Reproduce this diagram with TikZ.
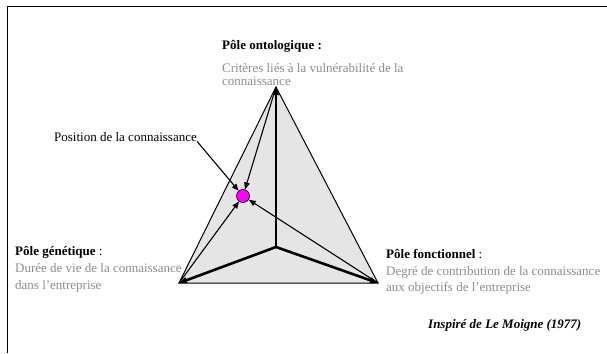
\documentclass[tikz,border=0pt]{standalone}
\usepackage{fontspec}
\setmainfont{Liberation Serif}
\usetikzlibrary{arrows.meta}

\definecolor{poletext}{gray}{0.55}
\definecolor{polefill}{gray}{0.9}
\definecolor{knowdot}{RGB}{255,0,255}

\tikzstyle{edges}=[line width=1pt, line join=miter]
\tikzstyle{axis}=[-{Triangle[length=8pt,width=6pt]}]
\tikzstyle{arrow}=[line width=1.1pt, -{Triangle[length=7pt,width=5.5pt]}]
\tikzstyle{heading}=[anchor=base west, inner sep=0pt, font=\fontsize{13}{15}\selectfont]
\tikzstyle{descr}=[anchor=base west, inner sep=0pt, align=left, text=poletext]

\begin{document}
\begin{tikzpicture}[x=1pt, y={(0pt,-1pt)}]
	\useasboundingbox (0,0) rectangle (607,353);

	% Frame
	\draw[line width=0.8pt] (7,353) -- (7,6) -- (607,6);

	% Poles, centre
	\coordinate (onto) at (276,87);
	\coordinate (gene) at (179,283);
	\coordinate (fonc) at (378,283);
	\coordinate (centre) at (276,247);

	% Triangle
	\draw[edges, fill=polefill] (onto) -- (gene) -- (fonc) -- cycle;
	\draw[axis, line width=1.6pt] (centre) -- (onto);
	\foreach \p in {gene,fonc} {
		\draw[axis, line width=2.6pt] (centre) -- (\p);
	}

	% Position of the knowledge
	\node[circle, draw, fill=knowdot, minimum size=13pt, inner sep=0pt, line width=0.6pt] (pos) at (243,196) {};
	\foreach \p in {onto,gene,fonc} {
		\draw[arrow] (\p) -- (pos);
	}
	\node[heading] (poslabel) at (54,141) {Position de la connaissance};
	\draw[arrow] (poslabel.south east) -- (pos);

	% Labels (descr nodes sit on their last line)
	\node[heading] (ontohead) at (222,50) {\bfseries Pôle ontologique :};
	\node[descr, font=\fontsize{13}{13}\selectfont] (ontotext) at (222,85)
		{Critères liés à la vulnérabilité de la\\connaissance};
	\node[heading] (genehead) at (15,255) {{\bfseries Pôle génétique} :};
	\node[descr, font=\fontsize{13}{17}\selectfont] (genetext) at (15,289)
		{Durée de vie de la connaissance\\dans l’entreprise};
	\node[heading] (fonchead) at (386,258) {{\bfseries Pôle fonctionnel} :};
	\node[descr, font=\fontsize{13}{16}\selectfont] (fonctext) at (386,291)
		{Degré de contribution de la connaissance\\aux objectifs de l’entreprise};

	% Source
	\node[heading] (source) at (428,328) {\bfseries\itshape Inspiré de Le Moigne (1977)};
\end{tikzpicture}
\end{document}
